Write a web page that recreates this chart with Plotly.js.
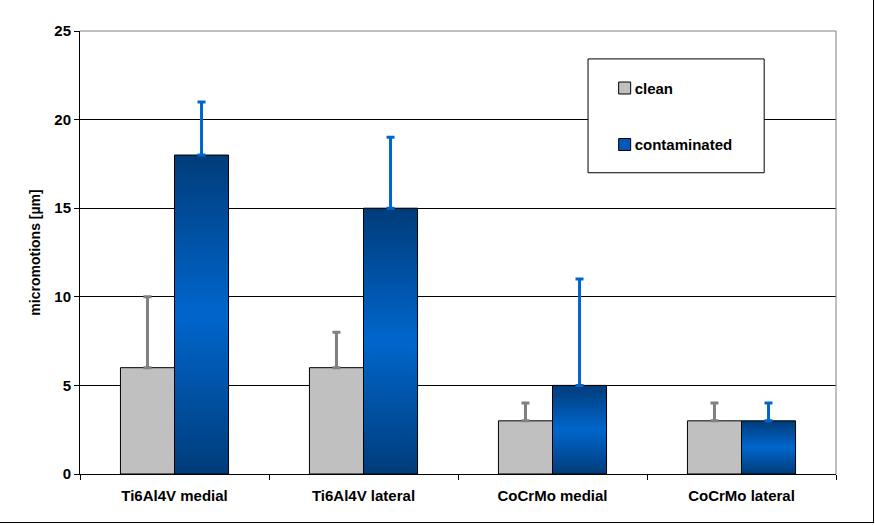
<!DOCTYPE html>
<html>
<head>
<meta charset="utf-8">
<script src="https://cdn.plot.ly/plotly-3.0.1.min.js"></script>
<style>
html,body{margin:0;padding:0;background:#fff;}
#wrap{position:relative;width:875px;height:525px;}
#chart{width:875px;height:525px;}
#frame{position:absolute;left:0;top:0;width:873px;height:522px;border-right:1px solid #000;border-bottom:1px solid #000;pointer-events:none;}
</style>
</head>
<body>
<div id="wrap"><div id="chart"></div><div id="frame"></div></div>
<script>
const categories = ["Ti6Al4V medial", "Ti6Al4V lateral", "CoCrMo medial", "CoCrMo lateral"];
const cleanValues = [6, 6, 3, 3];
const cleanErrors = [4, 2, 1, 1];
const contaminatedValues = [18, 15, 5, 3];
const contaminatedErrors = [3, 4, 6, 1];
const yTicks = [0, 5, 10, 15, 20, 25];

const fam = "Liberation Sans, Arial, sans-serif";
const font = {family: fam, size: 14, color: "#000"};

const traces = [
  {
    type: "bar", name: "clean", x: categories, y: cleanValues,
    legendgroup: "a",
    marker: {color: "#c0c0c0", line: {color: "#000", width: 1}},
    error_y: {type: "data", symmetric: false, array: cleanErrors, arrayminus: [0,0,0,0], color: "#808080", thickness: 3, width: 4}
  },
  {
    type: "bar", name: "contaminated", x: categories, y: contaminatedValues,
    legendgroup: "b",
    marker: {color: "#0058b8", line: {color: "#000", width: 1}},
    error_y: {type: "data", symmetric: false, array: contaminatedErrors, arrayminus: [0,0,0,0], color: "#0066cc", thickness: 3, width: 4}
  }
];

const layout = {
  width: 875, height: 525,
  margin: {l: 80, r: 39, t: 31, b: 51},
  paper_bgcolor: "#fff", plot_bgcolor: "#fff",
  font: font,
  barmode: "group", bargap: 0.428, bargroupgap: 0,
  showlegend: true,
  legend: {
    x: 0.694, y: 0.908, xanchor: "left", yanchor: "top",
    bgcolor: "rgba(0,0,0,0)", borderwidth: 0,
    font: {family: fam, size: 15, color: "#000", weight: "bold"},
    tracegroupgap: 34, traceorder: "grouped"
  },
  xaxis: {
    type: "category", showgrid: false, showline: true, linecolor: "#000", linewidth: 1,
    ticks: "outside", tickson: "boundaries", ticklen: 5, tickcolor: "#000",
    ticklabelstandoff: 8,
    tickfont: {family: fam, size: 15, color: "#000", weight: "bold"},
    fixedrange: true
  },
  yaxis: {
    range: [0, 25], tickvals: yTicks, ticktext: yTicks.map(String),
    showgrid: true, gridcolor: "#000", gridwidth: 1,
    showline: true, linecolor: "#000", linewidth: 1,
    ticks: "outside", ticklen: 5, tickcolor: "#000",
    tickfont: {family: fam, size: 15, color: "#000", weight: "bold"},
    zeroline: false,
    title: {text: "micromotions [µm]", font: {family: fam, size: 14, color: "#000", weight: "bold"}, standoff: 10},
    fixedrange: true
  },
  shapes: [
    {type: "line", xref: "paper", yref: "paper", x0: 0, x1: 1, y0: 1, y1: 1, line: {color: "#808080", width: 1}, layer: "above"},
    {type: "line", xref: "paper", yref: "paper", x0: 1, x1: 1, y0: 0, y1: 1, line: {color: "#808080", width: 1}, layer: "above"},
    {type: "rect", xref: "paper", yref: "paper", x0: 0.672, x1: 0.905, y0: 0.68, y1: 0.937, fillcolor: "#fff", line: {color: "#000", width: 1}, layer: "above"}
  ]
};

Plotly.newPlot("chart", traces, layout, {staticPlot: true, displayModeBar: false}).then(function(gd){
  const svg = gd.querySelector(".main-svg");
  let defs = svg.querySelector("defs");
  const ns = "http://www.w3.org/2000/svg";
  const grad = document.createElementNS(ns, "linearGradient");
  grad.setAttribute("id", "blueGrad");
  grad.setAttribute("x1", "0"); grad.setAttribute("y1", "0");
  grad.setAttribute("x2", "0"); grad.setAttribute("y2", "1");
  [["0", "#003c7a"], ["0.5", "#0066cc"], ["1", "#003c7a"]].forEach(function(s){
    const st = document.createElementNS(ns, "stop");
    st.setAttribute("offset", s[0]); st.setAttribute("stop-color", s[1]);
    grad.appendChild(st);
  });
  defs.appendChild(grad);
  const barTraces = gd.querySelectorAll(".barlayer .trace.bars");
  if (barTraces[1]) {
    barTraces[1].querySelectorAll(".point path").forEach(function(p){ p.style.fill = "url(#blueGrad)"; });
  }
  // tighten gap between legend symbol and text
  gd.querySelectorAll(".legend .legendtext").forEach(function(t){
    const x = parseFloat(t.getAttribute("x")) || 40;
    t.setAttribute("x", x - 10);
  });
});
</script>
</body>
</html>
